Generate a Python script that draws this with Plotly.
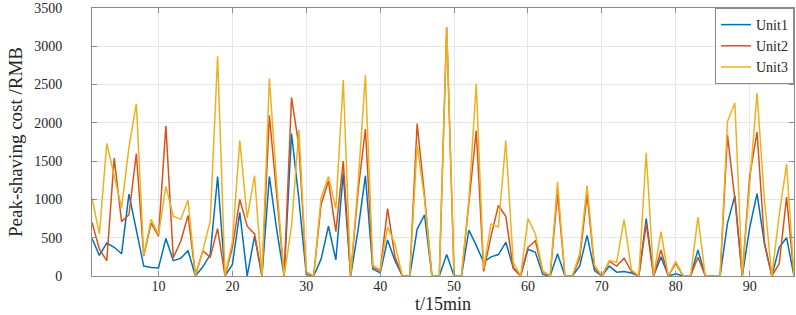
import plotly.graph_objects as go

t = list(range(1, 97))

unit1 = [490, 270, 430, 375, 290, 1070, 600, 130, 110, 105,
         490, 200, 230, 330, 0, 120, 280, 1300, 0, 150,
         830, 0, 520, 0, 1300, 600, 0, 1860, 1000, 20,
         0, 220, 650, 210, 1340, 0, 600, 1310, 90, 40,
         470, 200, 0, 0, 610, 800, 0, 0, 280, 0,
         0, 600, 400, 180, 250, 280, 440, 110, 0, 350,
         310, 20, 0, 290, 0, 0, 130, 530, 70, 0,
         130, 50, 60, 40, 0, 750, 0, 250, 0, 30,
         0, 0, 340, 0, 0, 0, 690, 1050, 0, 630,
         1075, 420, 0, 375, 500, 0]

unit2 = [700, 350, 200, 1540, 710, 800, 1600, 260, 690, 520,
         1960, 240, 450, 790, 10, 330, 245, 620, 0, 370,
         1000, 650, 550, 0, 2100, 1100, 0, 2330, 1700, 50,
         0, 935, 1240, 580, 1500, 0, 1100, 1920, 110, 70,
         880, 250, 0, 0, 1990, 1050, 0, 0, 3250, 0,
         0, 950, 1900, 60, 520, 920, 780, 100, 0, 375,
         460, 60, 0, 1080, 0, 0, 230, 1065, 110, 0,
         190, 130, 233, 60, 0, 680, 0, 340, 0, 165,
         0, 0, 246, 0, 0, 0, 1840, 1000, 0, 1300,
         1880, 440, 0, 160, 1030, 0]

unit3 = [1020, 550, 1730, 1300, 890, 1680, 2250, 270, 740, 540,
         1170, 780, 740, 990, 0, 330, 720, 2870, 0, 450,
         1770, 760, 1310, 0, 2580, 1200, 0, 650, 1910, 50,
         0, 1020, 1300, 880, 2560, 0, 1200, 2620, 140, 80,
         640, 420, 0, 0, 1710, 1000, 0, 0, 3250, 0,
         0, 1000, 2510, 100, 680, 640, 1770, 180, 0, 750,
         550, 65, 0, 1230, 0, 0, 290, 1180, 140, 0,
         200, 180, 740, 80, 0, 1610, 0, 580, 0, 190,
         0, 0, 770, 0, 0, 0, 2020, 2260, 0, 1190,
         2390, 1000, 0, 800, 1460, 0]

series = [("Unit1", unit1, "#0072BD"),
          ("Unit2", unit2, "#D95319"),
          ("Unit3", unit3, "#EDB120")]

x_ticks = [10, 20, 30, 40, 50, 60, 70, 80, 90]
y_ticks = [0, 500, 1000, 1500, 2000, 2500, 3000, 3500]

FONT = "Liberation Serif, Times New Roman, serif"

fig = go.Figure()
for name, vals, col in series:
    fig.add_trace(go.Scatter(x=t, y=vals, mode="lines", name=name,
                             line=dict(color=col, width=1.5)))

axis_common = dict(showline=True, linecolor="#8c8c8c", linewidth=1,
                   mirror="ticks", ticks="inside", ticklen=5,
                   tickcolor="#8c8c8c", showgrid=True, gridcolor="#e6e6e6",
                   gridwidth=1, zeroline=False, ticklabeloverflow="allow",
                   tickfont=dict(family=FONT, size=14, color="#262626"))

fig.update_xaxes(range=[1, 96], tickvals=x_ticks, ticklabelstandoff=-3,
                 title=dict(text="t/15min", font=dict(family=FONT, size=18, color="#262626"), standoff=2),
                 **axis_common)
fig.update_yaxes(range=[0, 3500], tickvals=y_ticks, ticklabelstandoff=26,
                 title=dict(text="Peak-shaving cost /RMB", font=dict(family=FONT, size=19, color="#262626"), standoff=6),
                 **axis_common)

fig.update_layout(
    width=796, height=315,
    margin=dict(l=92, r=1, t=5, b=39),
    paper_bgcolor="white", plot_bgcolor="white",
    showlegend=True,
    legend=dict(x=1, y=1, xanchor="right", yanchor="top",
                bgcolor="white", bordercolor="#8c8c8c", borderwidth=1,
                font=dict(family=FONT, size=14, color="#262626"),
                tracegroupgap=0, itemwidth=30),
)

fig.write_html("out.html", config={"displayModeBar": False},
               post_script="document.body.style.margin='0';document.body.style.overflow='hidden';")
